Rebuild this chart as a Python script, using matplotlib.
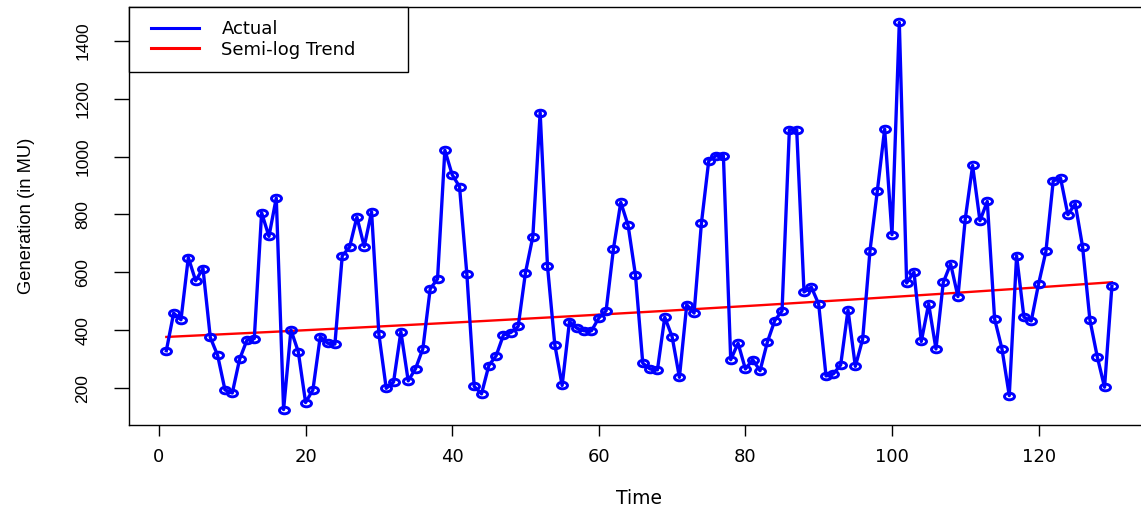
import numpy as np
import matplotlib
matplotlib.use("Agg")
import matplotlib.pyplot as plt
from matplotlib.path import Path
from matplotlib.transforms import Affine2D
from matplotlib.lines import Line2D
from matplotlib.legend_handler import HandlerLine2D

# ---- data ----
time = list(range(1, 131))
actual = [329, 459, 436, 651, 571, 613, 375, 313, 194, 183,
          300, 366, 371, 806, 724, 857, 126, 401, 326, 150,
          194, 378, 355, 352, 657, 687, 791, 689, 809, 386,
          199, 221, 395, 225, 267, 336, 543, 577, 1022, 937,
          896, 594, 206, 180, 278, 312, 384, 392, 413, 599,
          723, 1152, 622, 350, 209, 430, 407, 398, 398, 442,
          467, 681, 842, 762, 591, 286, 266, 263, 445, 378,
          237, 488, 459, 769, 985, 1003, 1003, 298, 355, 266,
          298, 260, 359, 433, 467, 1092, 1092, 532, 549, 490,
          242, 249, 280, 470, 275, 369, 675, 881, 1095, 730,
          1463, 563, 601, 361, 491, 335, 565, 629, 516, 785,
          969, 778, 845, 439, 336, 174, 657, 445, 432, 560,
          672, 916, 925, 799, 837, 689, 436, 309, 203, 551]
x_ticks = [0, 20, 40, 60, 80, 100, 120]
y_ticks = [200, 400, 600, 800, 1000, 1200, 1400]
legend_labels = ["Actual", "Semi-log Trend"]

# semi-log trend: log(y) = a + b t, fitted to the series
t = np.array(time, dtype=float)
y = np.array(actual, dtype=float)
b, a = np.polyfit(t, np.log(y), 1)
trend = np.exp(a + b * t)

W, H = 1141, 509
fig = plt.figure(figsize=(W / 100, H / 100), dpi=100)
L, R, T, B = 128.5, 1149.7, 7.0, 425.0
ax = fig.add_axes([L / W, (H - B) / H, (R - L) / W, (B - T) / H])

ell = Path.unit_circle().transformed(Affine2D().scale(1.0, 0.66))
ax.plot(time, actual, color="#0000FF", lw=2.4, marker=ell, ms=7.2,
        mfc="none", mec="#0000FF", mew=2.1, label=legend_labels[0], zorder=3)
ax.plot(time, trend, color="#FF0000", lw=1.7, label=legend_labels[1], zorder=2)

ax.margins(x=0.04, y=0.04)
ax.set_xticks(x_ticks)
ax.set_yticks(y_ticks)
ax.set_xticklabels([str(v) for v in x_ticks], fontsize=13, family="DejaVu Sans")
ax.set_yticklabels([str(v) for v in y_ticks], fontsize=12.5, family="Liberation Sans",
                   rotation=90, va="center")
ax.tick_params(axis="x", direction="out", length=8, width=1, pad=8.5, colors="black")
ax.tick_params(axis="y", direction="out", length=10.5, width=1, pad=17, colors="black")
for s in ax.spines.values():
    s.set_linewidth(1.0)
    s.set_color("black")

ax.set_xlabel("Time", fontsize=13.5, family="DejaVu Sans")
ax.xaxis.set_label_coords(0.5, (B - 489) / (B - T))
ax.set_ylabel("Generation (in MU)", fontsize=13.2, family="Liberation Sans")
ax.yaxis.set_label_coords((35 - L) / (R - L), 0.5)

fs = 13
lw_frac = (407.7 - L) / (R - L)
lh_frac = (69.3 - T) / (B - T)
leg = ax.legend(loc="upper left", bbox_to_anchor=(0, 1 - lh_frac, lw_frac, lh_frac),
                mode="expand", borderaxespad=0, fancybox=False, framealpha=1,
                edgecolor="black", prop={"family": "DejaVu Sans", "size": fs},
                borderpad=0.72, labelspacing=0.15, handlelength=3.17,
                handletextpad=1.26,
                handler_map={Line2D: HandlerLine2D(xpad=0.5, marker_pad=0)})
leg.get_frame().set_linewidth(1.0)
for h in leg.legend_handles:
    h.set_marker("")
    h.set_linewidth(2.2)

fig.savefig("out.png", dpi=100)
